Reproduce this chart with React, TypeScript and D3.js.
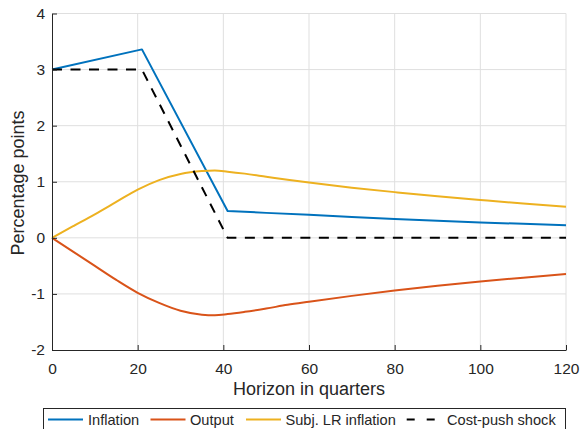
import { useEffect, useRef } from "react";
import * as d3 from "d3";

// horizons (quarters) and values
const inflationH = [0, 21, 41, 50, 60, 70, 80, 90, 100, 110, 120];
const inflation = [3.0, 3.36, 0.48, 0.445, 0.41, 0.37, 0.335, 0.305, 0.275, 0.25, 0.225];

const outputH = [0, 5, 10, 15, 20, 25, 30, 35, 38, 41, 45, 50, 55, 60, 70, 80, 90, 100, 110, 120];
const output = [0, -0.25, -0.5, -0.75, -0.98, -1.16, -1.3, -1.37, -1.38, -1.36, -1.32, -1.26, -1.195, -1.14, -1.035, -0.94, -0.855, -0.78, -0.71, -0.645];

const subjH = [0, 5, 10, 15, 20, 25, 30, 35, 38, 41, 45, 50, 55, 60, 70, 80, 90, 100, 110, 120];
const subjLR = [0, 0.21, 0.42, 0.64, 0.86, 1.03, 1.14, 1.19, 1.2, 1.18, 1.145, 1.09, 1.035, 0.985, 0.895, 0.815, 0.74, 0.675, 0.612, 0.555];

const shockH = [0, 21, 41, 120];
const shock = [3, 3, 0, 0];

const xTicks = [0, 20, 40, 60, 80, 100, 120];
const yTicks = [-2, -1, 0, 1, 2, 3, 4];

const legendLabels = ["Inflation", "Output", "Subj. LR inflation", "Cost-push shock"];

type Pt = { h: number; v: number };
const zip = (hs: number[], vs: number[]): Pt[] => hs.map((h, i) => ({ h, v: vs[i] }));

export default function App() {
    const svgRef = useRef<SVGSVGElement | null>(null);

    useEffect(() => {
        const width = 581;
        const height = 429;
        const marginLeft = 52;
        const marginRight = 15;
        const marginTop = 13.5;
        const plotBottom = 350;
        const font = "'Liberation Sans', Arial, Helvetica, sans-serif";
        const axisColor = "#262626";

        const svg = d3.select(svgRef.current);
        svg.selectAll("*").remove();
        svg.attr("width", width).attr("height", height);

        const x = d3.scaleLinear().domain([0, 120]).range([marginLeft, width - marginRight]);
        const y = d3.scaleLinear().domain([-2, 4]).range([plotBottom, marginTop]);

        // grid
        const grid = svg.append("g").attr("stroke", "#dfdfdf").attr("stroke-width", 1);
        grid.selectAll("line.gx")
            .data(xTicks.filter(t => t !== 0))
            .enter()
            .append("line")
            .attr("x1", d => x(d)).attr("x2", d => x(d))
            .attr("y1", y(-2)).attr("y2", y(4));
        grid.selectAll("line.gy")
            .data(yTicks.filter(t => t !== -2))
            .enter()
            .append("line")
            .attr("x1", x(0)).attr("x2", x(120))
            .attr("y1", d => y(d)).attr("y2", d => y(d));

        // series
        const linear = d3.line<Pt>().x(d => x(d.h)).y(d => y(d.v));
        const smooth = d3.line<Pt>().x(d => x(d.h)).y(d => y(d.v)).curve(d3.curveMonotoneX);

        const series = [
            { pts: zip(inflationH, inflation), gen: linear, color: "#0072BD", dash: null },
            { pts: zip(outputH, output), gen: smooth, color: "#D95319", dash: null },
            { pts: zip(subjH, subjLR), gen: smooth, color: "#EDB120", dash: null },
            { pts: zip(shockH, shock), gen: linear, color: "#000000", dash: "10,8.5" },
        ];

        series.forEach(s => {
            svg.append("path")
                .attr("fill", "none")
                .attr("stroke", s.color)
                .attr("stroke-width", 2)
                .attr("stroke-linejoin", "round")
                .attr("stroke-dasharray", s.dash)
                .attr("d", s.gen(s.pts));
        });

        // axes
        const xAxis = svg.append("g")
            .attr("transform", `translate(0,${plotBottom})`)
            .call(d3.axisBottom(x).tickValues(xTicks).tickSizeInner(-5).tickSizeOuter(0).tickPadding(13));
        const yAxis = svg.append("g")
            .attr("transform", `translate(${marginLeft},0)`)
            .call(d3.axisLeft(y).tickValues(yTicks).tickSizeInner(-5).tickSizeOuter(0).tickPadding(7).tickFormat(d3.format("d")));

        [xAxis, yAxis].forEach(g => {
            g.select(".domain").attr("stroke", axisColor).attr("stroke-width", 1);
            g.selectAll(".tick line").attr("stroke", axisColor);
            g.selectAll(".tick text")
                .attr("fill", axisColor)
                .style("font-family", font)
                .style("font-size", "15.5px");
        });
        yAxis.selectAll(".tick text").text((d: any) => (d < 0 ? "-" + Math.abs(d) : String(d)));

        // axis labels
        svg.append("text")
            .attr("x", (x(0) + x(120)) / 2)
            .attr("y", 395)
            .attr("text-anchor", "middle")
            .attr("fill", axisColor)
            .style("font-family", font)
            .style("font-size", "18px")
            .text("Horizon in quarters");

        svg.append("text")
            .attr("transform", `translate(23.5,183) rotate(-90)`)
            .attr("text-anchor", "middle")
            .attr("fill", axisColor)
            .style("font-family", font)
            .style("font-size", "18px")
            .text("Percentage points");

        // legend
        const legend = svg.append("g");
        legend.append("rect")
            .attr("x", 43.5).attr("y", 408.5)
            .attr("width", 522).attr("height", 30)
            .attr("fill", "white")
            .attr("stroke", axisColor)
            .attr("stroke-width", 1);

        const lineStarts = [48, 150.5, 246, 406.7];
        const textStarts = [88, 190, 285.5, 447];
        const legendY = 419.5;
        series.forEach((s, i) => {
            legend.append("line")
                .attr("x1", lineStarts[i]).attr("x2", lineStarts[i] + 35)
                .attr("y1", legendY).attr("y2", legendY)
                .attr("stroke", s.color)
                .attr("stroke-width", 2)
                .attr("stroke-dasharray", s.dash ? "8,12" : null);
            legend.append("text")
                .attr("x", textStarts[i]).attr("y", legendY + 5)
                .attr("fill", axisColor)
                .style("font-family", font)
                .style("font-size", "14.6px")
                .text(legendLabels[i]);
        });
    }, []);

    return (
        <svg ref={svgRef} style={{ position: "absolute", left: 0, top: 0, display: "block" }} />
    );
}
